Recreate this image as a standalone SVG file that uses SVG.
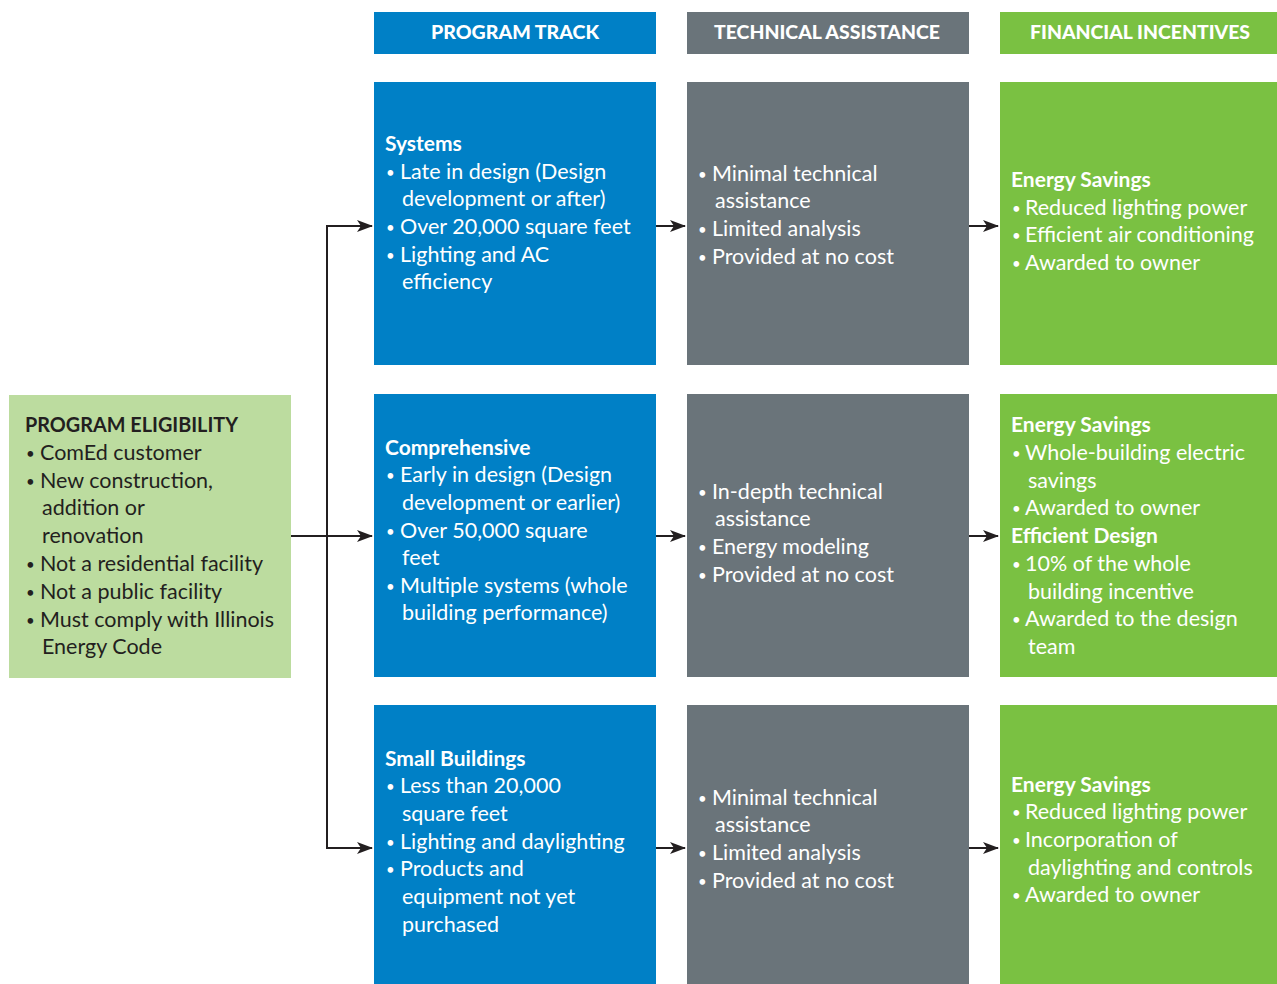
<svg xmlns="http://www.w3.org/2000/svg" width="1277" height="984" viewBox="0 0 1277 984">
<defs>
<style>
.bg{fill:#fff}
.blue{fill:#0080C6}
.gray{fill:#6A747A}
.green{fill:#7AC142}
.lgreen{fill:#BCDC9F}
.hd{font-family:"Lato","Open Sans",sans-serif;font-weight:900;font-size:19px;fill:#fff;text-anchor:middle}
.t{font-family:"Lato","Noto Sans",sans-serif;font-size:21.5px;fill:#fff}
.tb{font-family:"Lato","Noto Sans",sans-serif;font-size:21px;font-weight:bold;fill:#fff}
.b{font-family:"Lato","Noto Sans",sans-serif;font-size:15px;fill:#fff}
.d{fill:#231F20}
.conn{stroke:#231F20;stroke-width:2;fill:none}
</style>
<marker id="ah" viewBox="0 0 16 12" refX="15" refY="6" markerWidth="16" markerHeight="12" markerUnits="userSpaceOnUse" orient="auto">
<path d="M0,0 L16,6 L0,12 L4,6 Z" fill="#231F20"/>
</marker>
</defs>
<rect class="bg" x="0" y="0" width="1277" height="984"/>

<g id="header-program-track">
<rect class="blue" x="374" y="12" width="282" height="42"/>
<text class="hd" x="515" y="39" textLength="168" lengthAdjust="spacingAndGlyphs">PROGRAM TRACK</text>
</g>
<g id="header-technical-assistance">
<rect class="gray" x="687" y="12" width="282" height="42"/>
<text class="hd" x="827" y="39" textLength="226" lengthAdjust="spacingAndGlyphs">TECHNICAL ASSISTANCE</text>
</g>
<g id="header-financial-incentives">
<rect class="green" x="1000" y="12" width="277" height="42"/>
<text class="hd" x="1140" y="39" textLength="220" lengthAdjust="spacingAndGlyphs">FINANCIAL INCENTIVES</text>
</g>

<g id="program-eligibility">
<rect class="lgreen" x="9" y="395" width="282" height="283"/>
<text class="tb d" x="25" y="432" textLength="213" lengthAdjust="spacingAndGlyphs">PROGRAM ELIGIBILITY</text>
<text class="b d">
<tspan x="26" y="459">•</tspan>
<tspan x="26" y="487">•</tspan>
<tspan x="26" y="570">•</tspan>
<tspan x="26" y="598">•</tspan>
<tspan x="26" y="626">•</tspan>
</text>
<text class="t d">
<tspan x="40" y="460">ComEd customer</tspan>
<tspan x="40" y="488">New construction,</tspan>
<tspan x="42" y="515">addition or</tspan>
<tspan x="42" y="543">renovation</tspan>
<tspan x="40" y="571">Not a residential facility</tspan>
<tspan x="40" y="599">Not a public facility</tspan>
<tspan x="40" y="627">Must comply with Illinois</tspan>
<tspan x="42" y="654">Energy Code</tspan>
</text>
</g>

<g id="systems">
<rect class="blue" x="374" y="82" width="282" height="283"/>
<text class="tb" x="385" y="151">Systems</text>
<text class="b">
<tspan x="386" y="178">•</tspan>
<tspan x="386" y="233">•</tspan>
<tspan x="386" y="261">•</tspan>
</text>
<text class="t">
<tspan x="400" y="179">Late in design (Design</tspan>
<tspan x="402" y="206">development or after)</tspan>
<tspan x="400" y="234">Over 20,000 square feet</tspan>
<tspan x="400" y="262">Lighting and AC</tspan>
<tspan x="402" y="289">efficiency</tspan>
</text>
</g>

<g id="systems-ta">
<rect class="gray" x="687" y="82" width="282" height="283"/>
<text class="b">
<tspan x="698" y="180">•</tspan>
<tspan x="698" y="235">•</tspan>
<tspan x="698" y="263">•</tspan>
</text>
<text class="t">
<tspan x="712" y="181">Minimal technical</tspan>
<tspan x="715" y="208">assistance</tspan>
<tspan x="712" y="236">Limited analysis</tspan>
<tspan x="712" y="264">Provided at no cost</tspan>
</text>
</g>

<g id="systems-fi">
<rect class="green" x="1000" y="82" width="277" height="283"/>
<text class="tb" x="1011" y="187">Energy Savings</text>
<text class="b">
<tspan x="1012" y="214">•</tspan>
<tspan x="1012" y="241">•</tspan>
<tspan x="1012" y="269">•</tspan>
</text>
<text class="t">
<tspan x="1025" y="215">Reduced lighting power</tspan>
<tspan x="1025" y="242">Efficient air conditioning</tspan>
<tspan x="1025" y="270">Awarded to owner</tspan>
</text>
</g>

<g id="comprehensive">
<rect class="blue" x="374" y="394" width="282" height="283"/>
<text class="tb" x="385" y="455">Comprehensive</text>
<text class="b">
<tspan x="386" y="481">•</tspan>
<tspan x="386" y="537">•</tspan>
<tspan x="386" y="592">•</tspan>
</text>
<text class="t">
<tspan x="400" y="482">Early in design (Design</tspan>
<tspan x="402" y="510">development or earlier)</tspan>
<tspan x="400" y="538">Over 50,000 square</tspan>
<tspan x="402" y="565">feet</tspan>
<tspan x="400" y="593">Multiple systems (whole</tspan>
<tspan x="402" y="620">building performance)</tspan>
</text>
</g>

<g id="comprehensive-ta">
<rect class="gray" x="687" y="394" width="282" height="283"/>
<text class="b">
<tspan x="698" y="498">•</tspan>
<tspan x="698" y="553">•</tspan>
<tspan x="698" y="581">•</tspan>
</text>
<text class="t">
<tspan x="712" y="499">In-depth technical</tspan>
<tspan x="715" y="526">assistance</tspan>
<tspan x="712" y="554">Energy modeling</tspan>
<tspan x="712" y="582">Provided at no cost</tspan>
</text>
</g>

<g id="comprehensive-fi">
<rect class="green" x="1000" y="394" width="277" height="283"/>
<text class="tb" x="1011" y="432">Energy Savings</text>
<text class="tb" x="1011" y="543">Efficient Design</text>
<text class="b">
<tspan x="1012" y="459">•</tspan>
<tspan x="1012" y="514">•</tspan>
<tspan x="1012" y="570">•</tspan>
<tspan x="1012" y="625">•</tspan>
</text>
<text class="t">
<tspan x="1025" y="460">Whole-building electric</tspan>
<tspan x="1028" y="488">savings</tspan>
<tspan x="1025" y="515">Awarded to owner</tspan>
<tspan x="1025" y="571">10% of the whole</tspan>
<tspan x="1028" y="599">building incentive</tspan>
<tspan x="1025" y="626">Awarded to the design</tspan>
<tspan x="1028" y="654">team</tspan>
</text>
</g>

<g id="small-buildings">
<rect class="blue" x="374" y="705" width="282" height="279"/>
<text class="tb" x="385" y="766">Small Buildings</text>
<text class="b">
<tspan x="386" y="792">•</tspan>
<tspan x="386" y="848">•</tspan>
<tspan x="386" y="875">•</tspan>
</text>
<text class="t">
<tspan x="400" y="793">Less than 20,000</tspan>
<tspan x="402" y="821">square feet</tspan>
<tspan x="400" y="849">Lighting and daylighting</tspan>
<tspan x="400" y="876">Products and</tspan>
<tspan x="402" y="904">equipment not yet</tspan>
<tspan x="402" y="932">purchased</tspan>
</text>
</g>

<g id="small-buildings-ta">
<rect class="gray" x="687" y="705" width="282" height="279"/>
<text class="b">
<tspan x="698" y="804">•</tspan>
<tspan x="698" y="859">•</tspan>
<tspan x="698" y="887">•</tspan>
</text>
<text class="t">
<tspan x="712" y="805">Minimal technical</tspan>
<tspan x="715" y="832">assistance</tspan>
<tspan x="712" y="860">Limited analysis</tspan>
<tspan x="712" y="888">Provided at no cost</tspan>
</text>
</g>

<g id="small-buildings-fi">
<rect class="green" x="1000" y="705" width="277" height="279"/>
<text class="tb" x="1011" y="792">Energy Savings</text>
<text class="b">
<tspan x="1012" y="818">•</tspan>
<tspan x="1012" y="846">•</tspan>
<tspan x="1012" y="901">•</tspan>
</text>
<text class="t">
<tspan x="1025" y="819">Reduced lighting power</tspan>
<tspan x="1025" y="847">Incorporation of</tspan>
<tspan x="1028" y="875">daylighting and controls</tspan>
<tspan x="1025" y="902">Awarded to owner</tspan>
</text>
</g>

<g id="connectors">
<path class="conn" d="M291,536 H372" marker-end="url(#ah)"/>
<path class="conn" d="M372,226 H327 V848 H372" marker-end="url(#ah)"/>
<path class="conn" d="M327,226 H372" marker-end="url(#ah)"/>
<path class="conn" d="M656,226 H685" marker-end="url(#ah)"/>
<path class="conn" d="M656,536 H685" marker-end="url(#ah)"/>
<path class="conn" d="M656,848 H685" marker-end="url(#ah)"/>
<path class="conn" d="M969,226 H998" marker-end="url(#ah)"/>
<path class="conn" d="M969,536 H998" marker-end="url(#ah)"/>
<path class="conn" d="M969,848 H998" marker-end="url(#ah)"/>
</g>
</svg>
